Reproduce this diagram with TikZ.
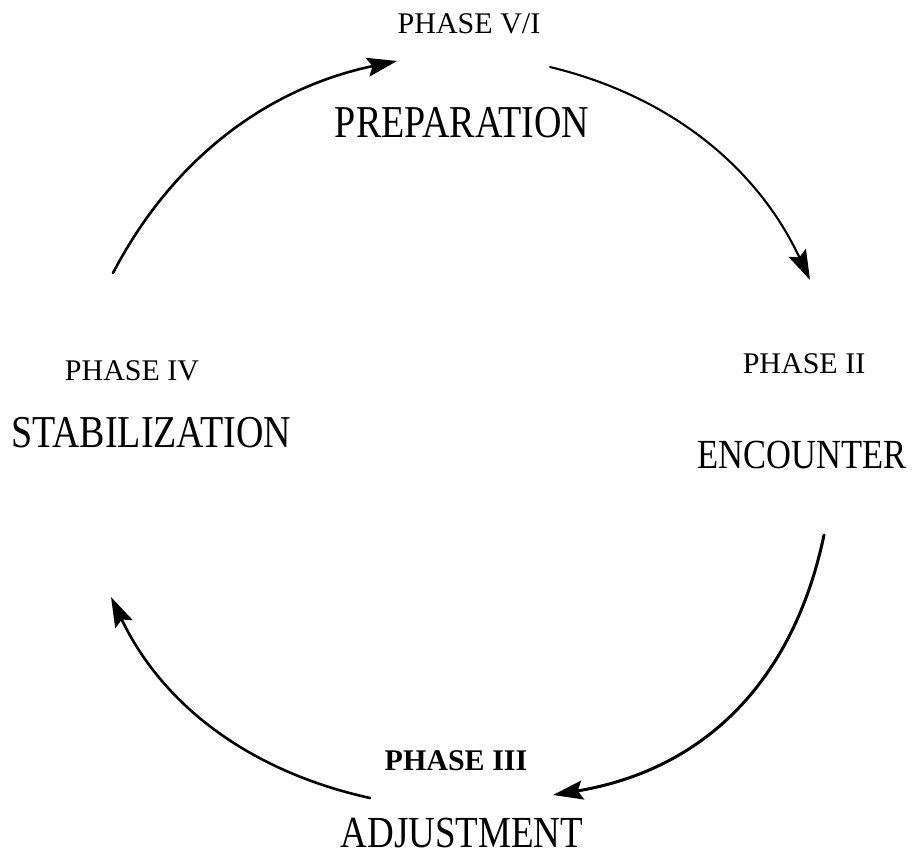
\documentclass[tikz,border=0pt]{standalone}
\usepackage{fontspec}
\usepackage{graphicx}
\setmainfont{Liberation Serif}
\usetikzlibrary{arrows.meta}
\newcommand{\talltext}[1]{\scalebox{1}[1.2]{#1}}
\tikzset{
  phaselabel/.style={anchor=base, inner sep=0pt, font=\fontsize{30}{34}\selectfont},
  stagelabel/.style={anchor=base, inner sep=0pt, font=\fontsize{37}{40}\selectfont},
  cyclearrow/.style={line width=2.6pt, line cap=round,
    -{Stealth[length=30pt, width=19pt, inset=5pt]}}
}
\begin{document}
\begin{tikzpicture}[x=1pt, y=-1pt]
  % canvas
  \fill[white] (0,0) rectangle (924,857);
  \path[use as bounding box] (0,0) rectangle (924,857);

  % phase names and stages
  \node[phaselabel] (p1) at (469,33) {PHASE V/I};
  \node[stagelabel, font=\fontsize{38}{40}\selectfont] (s1) at (462,137) {\talltext{PREPARATION}};
  \node[phaselabel] (p2) at (804,373) {PHASE II};
  \node[stagelabel, font=\fontsize{34.5}{40}\selectfont] (s2) at (802,468) {\talltext{ENCOUNTER}};
  \node[phaselabel, font=\fontsize{30}{34}\selectfont\bfseries] (p3) at (456,770) {PHASE III};
  \node[stagelabel] (s3) at (462,847) {\talltext{ADJUSTMENT}};
  \node[phaselabel] (p4) at (132,380) {PHASE IV};
  \node[stagelabel, font=\fontsize{38}{40}\selectfont] (s4) at (151,447) {\talltext{STABILIZATION}};

  % arrow end points around the cycle
  \coordinate (a1s) at (113,273);
  \coordinate (a1e) at (397,61);
  \coordinate (a2s) at (550,67);
  \coordinate (a2e) at (810,280);
  \coordinate (a3s) at (824,535);
  \coordinate (a3e) at (553,795);
  \coordinate (a4s) at (370,798);
  \coordinate (a4e) at (111,597);

  % cycle arrows
  \draw[cyclearrow] (a1s) .. controls (173,158) and (268,88) .. (a1e);
  \draw[cyclearrow, line width=2.1pt] (a2s) .. controls (670,96) and (757,167) .. (a2e);
  \draw[cyclearrow, line width=3pt] (a3s) .. controls (793,683) and (703,770) .. (a3e);
  \draw[cyclearrow] (a4s) .. controls (248,771) and (162,704) .. (a4e);
\end{tikzpicture}
\end{document}
